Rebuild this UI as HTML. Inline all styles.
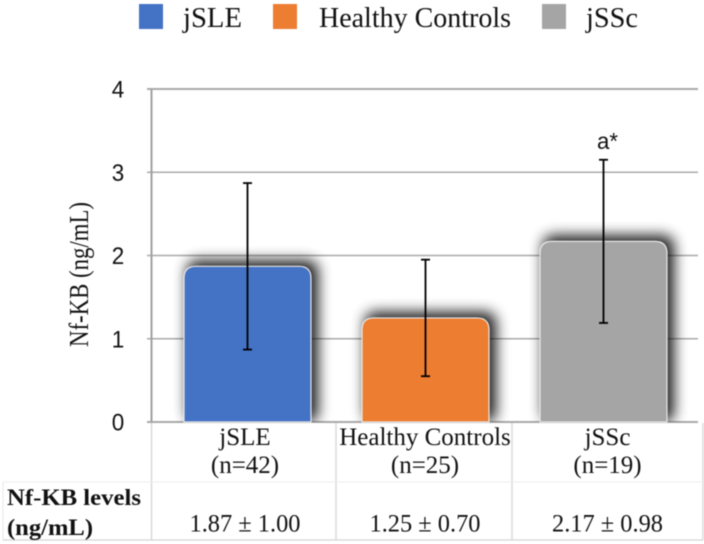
<!DOCTYPE html>
<html>
<head>
<meta charset="utf-8">
<style>
html,body{margin:0;padding:0;background:#fff;width:704px;height:544px;overflow:hidden}
svg{display:block;filter:blur(0.5px)}
.serif{font-family:"Liberation Serif",serif;fill:#111}
.sans{font-family:"Liberation Sans",sans-serif;fill:#111}
</style>
</head>
<body>
<svg id="chart" xmlns="http://www.w3.org/2000/svg" width="704" height="544" viewBox="0 0 704 544">
<defs>
<filter id="bar-shadow" x="-30%" y="-30%" width="160%" height="160%"><feGaussianBlur stdDeviation="7"/></filter>
<clipPath id="plot-clip"><rect x="152" y="60" width="552" height="362"/></clipPath>
</defs>
<g id="grid"></g>
<g id="bars"></g>
<g id="errors"></g>
<g id="ticks"></g>
<text class="serif" font-size="27" text-anchor="middle" textLength="145" lengthAdjust="spacingAndGlyphs" transform="translate(88 274.5) rotate(-90)">Nf-KB (ng/mL)</text>
<text class="sans" font-size="23" x="607.5" y="149" text-anchor="middle" textLength="21" lengthAdjust="spacingAndGlyphs">a*</text>
<g id="legend"></g>
<g id="table"></g>
<text class="serif" font-size="23" font-weight="bold" x="7" y="505" textLength="134" lengthAdjust="spacingAndGlyphs">Nf-KB levels</text>
<text class="serif" font-size="23" font-weight="bold" x="7" y="535" textLength="86" lengthAdjust="spacingAndGlyphs">(ng/mL)</text>
</svg>
<script>
const categories = ["jSLE", "Healthy Controls", "jSSc"];
const sampleSizes = [42, 25, 19];
const means = [1.87, 1.25, 2.17];
const errorsUpper = [1.00, 0.70, 0.98];
const errorsLower = [1.00, 0.70, 0.98];
const tickLabels = ["0", "1", "2", "3", "4"];
const tickValues = [0, 1, 2, 3, 4];
const colors = ["#4472c4", "#ed7d31", "#a5a5a5"];

const NS = "http://www.w3.org/2000/svg";
function yScale(v) { return 422 - v * (333 / 4); }
function xCenter(i) { return 247.5 + i * 178; }
const barWidth = 127;

function make(parent, tag, attrs, text) {
  const el = document.createElementNS(NS, tag);
  for (const k in attrs) el.setAttribute(k, attrs[k]);
  if (text !== undefined) el.textContent = text;
  document.getElementById(parent).appendChild(el);
  return el;
}

tickValues.forEach(function (v, i) {
  const y = yScale(v);
  const line = make("grid", "line", { x1: 147, x2: 698, y1: y, y2: y, stroke: "#a9a9a9", "stroke-width": v === 0 || v === 4 ? 2 : 1.6 });
  
  
  const label = make("ticks", "text", { x: 118, y: y + 8.5, "text-anchor": "middle", "font-size": 24, textLength: 12.5, lengthAdjust: "spacingAndGlyphs", class: "sans" }, tickLabels[i]);
  
  
});
const yAxis = make("grid", "line", { x1: 151.5, x2: 151.5, y1: yScale(4), y2: yScale(0), stroke: "#a0a0a0", "stroke-width": 2 });



categories.forEach(function (c, i) {
  const cx = xCenter(i);
  const top = yScale(means[i]);
  const bottom = yScale(0);
  const x = cx - barWidth / 2;
  const w = barWidth;
  const h = bottom - top;
  const shadow = make("bars", "rect", { x: x + 3, y: top - 6, width: w + 4, height: h + 6, rx: 10, fill: "#000", opacity: 0.9, filter: "url(#bar-shadow)", "clip-path": "url(#plot-clip)" });
  
  
  const d = "M" + x + " " + bottom + "V" + (top + 12) + "Q" + x + " " + top + " " + (x + 12) + " " + top + "H" + (x + w - 12) + "Q" + (x + w) + " " + top + " " + (x + w) + " " + (top + 12) + "V" + bottom + "Z";
  const bar = make("bars", "path", { d: d, fill: colors[i], stroke: "#e8e8e8", "stroke-width": 1.2 });
  
  

  const hi = yScale(means[i] + errorsUpper[i]);
  const lo = yScale(means[i] - errorsLower[i]);
  const stem = make("errors", "line", { x1: cx, x2: cx, y1: hi, y2: lo, stroke: "#000", "stroke-width": 1.8 });
  
  
  const capHi = make("errors", "line", { x1: cx - 4.5, x2: cx + 4.5, y1: hi, y2: hi, stroke: "#000", "stroke-width": 1.8 });
  
  
  const capLo = make("errors", "line", { x1: cx - 4.5, x2: cx + 4.5, y1: lo, y2: lo, stroke: "#000", "stroke-width": 1.8 });
  
  
});

const legendSwatchX = [139, 273, 542];
const legendTextX = [183, 319, 586];
const legendTextW = [59, 192, 52];
categories.forEach(function (c, i) {
  const sw = make("legend", "rect", { x: legendSwatchX[i], y: 4, width: 24, height: 25, fill: colors[i] });
  
  
  const t = make("legend", "text", { x: legendTextX[i], y: 27, class: "serif", "font-size": 28, textLength: legendTextW[i], lengthAdjust: "spacingAndGlyphs" }, c);
  
  
});

const tableV = [151.5, 336, 512, 703];
const tableColCenter = [245, 425, 607.5];
const valueTextWidth = 111;
tableV.forEach(function (x) {
  const l = make("table", "line", { x1: x, x2: x, y1: 423, y2: 540, stroke: "#d4d4d4", "stroke-width": 1.3 });
  
  
});
const rowTop = make("table", "line", { x1: 3, x2: 703, y1: 482, y2: 482, stroke: "#eeeeee", "stroke-width": 1 });


const rowBottom = make("table", "line", { x1: 3, x2: 703, y1: 540, y2: 540, stroke: "#d4d4d4", "stroke-width": 1.3 });


const rowLeft = make("table", "line", { x1: 3, x2: 3, y1: 482, y2: 540, stroke: "#e6e6e6", "stroke-width": 1 });



categories.forEach(function (c, i) {
  const cx = tableColCenter[i];
  const a = make("table", "text", { x: cx, y: 445, "text-anchor": "middle", class: "serif", "font-size": 25 }, c);
  
  
  const b = make("table", "text", { x: cx, y: 473, "text-anchor": "middle", class: "serif", "font-size": 25 }, "(n=" + sampleSizes[i] + ")");
  
  
  const v = make("table", "text", { x: cx, y: 531.5, "text-anchor": "middle", class: "serif", "font-size": 25, textLength: valueTextWidth, lengthAdjust: "spacingAndGlyphs" }, means[i].toFixed(2) + " ± " + errorsUpper[i].toFixed(2));
  
  
});
</script>
</body>
</html>
